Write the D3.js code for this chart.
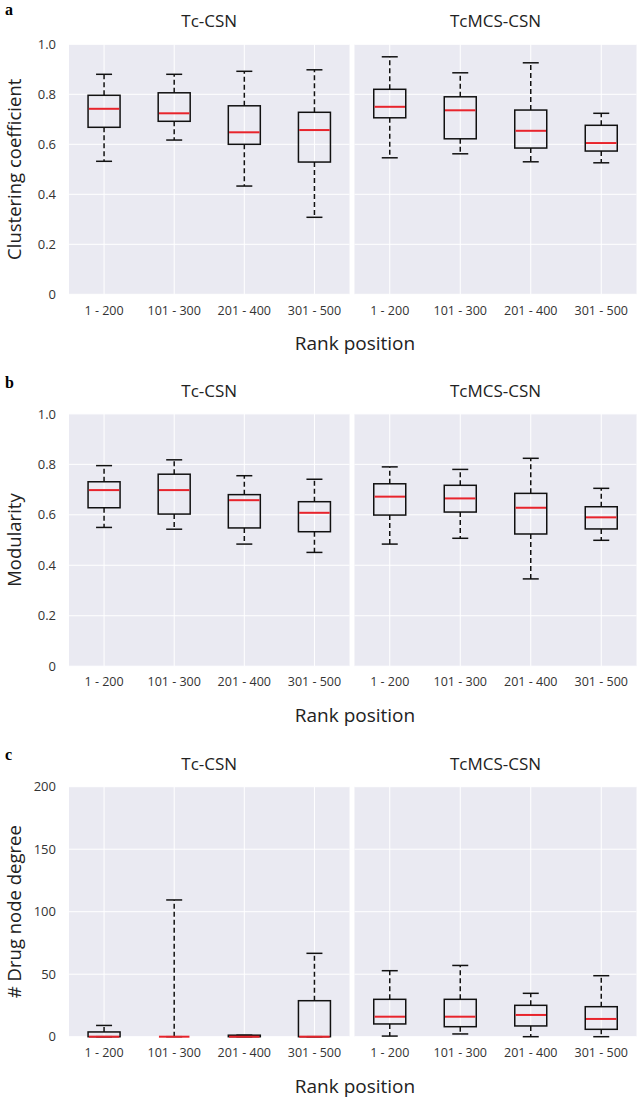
<!DOCTYPE html>
<html>
<head>
<meta charset="utf-8">
<script src="https://cdn.jsdelivr.net/npm/d3@7"></script>
<style>
  html, body { margin: 0; padding: 0; background: #fff; }
  svg { display: block; }
  text { font-family: "Open Sans", "Noto Sans", sans-serif; fill: #222; }
</style>
</head>
<body>
<svg id="chart" width="637" height="1098"></svg>
<script>
// ---------- DATA ----------
const categories = ["1 - 200", "101 - 300", "201 - 400", "301 - 500"];
const networks = ["Tc-CSN", "TcMCS-CSN"];
const panelLetters = ["a", "b", "c"];
const metricLabels = ["Clustering coefficient", "Modularity", "# Drug node degree"];
const xAxisTitle = "Rank position";

// each box: [lower whisker, Q1, median, Q3, upper whisker]
const clusteringTc    = [[0.532,0.668,0.742,0.796,0.880],[0.617,0.692,0.724,0.806,0.880],[0.433,0.600,0.648,0.754,0.892],[0.308,0.529,0.657,0.728,0.898]];
const clusteringTcMCS = [[0.546,0.706,0.750,0.820,0.950],[0.562,0.622,0.736,0.790,0.886],[0.530,0.585,0.654,0.737,0.926],[0.526,0.573,0.605,0.676,0.724]];
const modularityTc    = [[0.550,0.628,0.698,0.731,0.795],[0.543,0.603,0.698,0.761,0.818],[0.484,0.548,0.658,0.680,0.755],[0.451,0.533,0.608,0.652,0.741]];
const modularityTcMCS = [[0.484,0.599,0.672,0.723,0.790],[0.507,0.611,0.665,0.717,0.780],[0.346,0.524,0.628,0.685,0.824],[0.499,0.544,0.590,0.632,0.705]];
const degreeTc        = [[0,0,0,3.8,9],[0,0,0,0,109.4],[0,0,0,1.2,1.2],[0,0,0,28.8,66.7]];
const degreeTcMCS     = [[0.5,10.2,16,29.9,52.8],[2.2,8,16,29.9,57],[0,8.6,17.4,25.1,34.7],[0,5.9,14.2,24,48.8]];

const yDomains = [[0, 1], [0, 1], [0, 200]];
const yTicks = [[0,0.2,0.4,0.6,0.8,1.0],[0,0.2,0.4,0.6,0.8,1.0],[0,50,100,150,200]];
const panelData = [[clusteringTc, clusteringTcMCS],[modularityTc, modularityTcMCS],[degreeTc, degreeTcMCS]];

// ---------- LAYOUT ----------
const plotTops = [44.3, 413.9, 786.7];
const plotHs = [250, 252.3, 250];
const letterY = [15, 388, 760];
const subX = [[69, 349.5], [354.5, 636.5]];
const boxW = 32, capW = 16;
const bg = "#eaeaf2";
const medianColor = "#e8242c";

const svg = d3.select("#chart");

panelData.forEach((pd, pi) => {
  const top = plotTops[pi], h = plotHs[pi];
  const y = d3.scaleLinear().domain(yDomains[pi]).range([top + h, top]);
  const g = svg.append("g");

  // panel letter
  g.append("text").attr("x", 5).attr("y", letterY[pi])
    .style("font-family", "'Liberation Serif', 'DejaVu Serif', serif")
    .style("font-weight", "bold").style("font-size", "16px").style("fill", "#000")
    .text(panelLetters[pi]);

  // y-axis label
  g.append("text")
    .attr("transform", `translate(21,${top + h/2}) rotate(-90)`)
    .attr("text-anchor", "middle")
    .style("font-size", "18.5px")
    .text(metricLabels[pi]);

  // y ticks
  const yAxis = d3.axisLeft(y).tickValues(yTicks[pi]).tickSize(0).tickPadding(0)
    .tickFormat(d => pi === 2 ? String(d) : (d === 0 ? "0" : d.toFixed(1)));
  const ya = g.append("g").attr("transform", `translate(56,0)`).call(yAxis);
  ya.select(".domain").remove();
  ya.selectAll("text").style("font-size", "13px").style("fill", "#333")
    .style("font-family", "'Open Sans', 'Noto Sans', sans-serif");

  pd.forEach((series, si) => {
    const [x0, x1] = subX[si];
    const x = d3.scaleBand().domain(categories).range([x0, x1]);
    const sg = g.append("g");

    sg.append("rect").attr("x", x0).attr("y", top).attr("width", x1 - x0).attr("height", h).attr("fill", bg);

    // grid
    sg.selectAll(".hg").data(yTicks[pi]).enter().append("line")
      .attr("x1", x0).attr("x2", x1).attr("y1", d => y(d)).attr("y2", d => y(d))
      .attr("stroke", "#fff").attr("stroke-width", 1);
    sg.selectAll(".vg").data(categories).enter().append("line")
      .attr("x1", d => x(d) + x.bandwidth()/2).attr("x2", d => x(d) + x.bandwidth()/2)
      .attr("y1", top).attr("y2", top + h)
      .attr("stroke", "#fff").attr("stroke-width", 1);

    // title
    sg.append("text").attr("x", (x0 + x1)/2).attr("y", top - 17)
      .attr("text-anchor", "middle").style("font-size", "17px").text(networks[si]);

    // x tick labels
    const xAxis = d3.axisBottom(x).tickSize(0).tickPadding(0);
    const xa = sg.append("g").attr("transform", `translate(0,${top + h + 9})`).call(xAxis);
    xa.select(".domain").remove();
    xa.selectAll("text").attr("dy", "0.9em").style("font-size", "12.5px").style("fill", "#333")
      .style("font-family", "'Open Sans', 'Noto Sans', sans-serif");

    // boxes
    const bx = sg.selectAll(".box").data(series.map((d, i) => ({cat: categories[i], v: d})))
      .enter().append("g");
    const cx = d => x(d.cat) + x.bandwidth()/2;

    // whiskers
    bx.append("line").attr("x1", cx).attr("x2", cx)
      .attr("y1", d => y(d.v[3])).attr("y2", d => y(d.v[4]))
      .attr("stroke", "#111").attr("stroke-width", 1.5).attr("stroke-dasharray", "5,3");
    bx.append("line").attr("x1", cx).attr("x2", cx)
      .attr("y1", d => y(d.v[1])).attr("y2", d => y(d.v[0]))
      .attr("stroke", "#111").attr("stroke-width", 1.5).attr("stroke-dasharray", "5,3");
    // caps
    bx.append("line").attr("x1", d => cx(d) - capW/2).attr("x2", d => cx(d) + capW/2)
      .attr("y1", d => y(d.v[4])).attr("y2", d => y(d.v[4]))
      .attr("stroke", "#111").attr("stroke-width", 1.5);
    bx.append("line").attr("x1", d => cx(d) - capW/2).attr("x2", d => cx(d) + capW/2)
      .attr("y1", d => y(d.v[0])).attr("y2", d => y(d.v[0]))
      .attr("stroke", "#111").attr("stroke-width", 1.5);
    // box
    bx.append("rect").attr("x", d => cx(d) - boxW/2).attr("width", boxW)
      .attr("y", d => y(d.v[3])).attr("height", d => Math.max(0, y(d.v[1]) - y(d.v[3])))
      .attr("fill", "none").attr("stroke", "#111").attr("stroke-width", 1.5);
    // median
    bx.append("line").attr("x1", d => cx(d) - boxW/2 + 0.75).attr("x2", d => cx(d) + boxW/2 - 0.75)
      .attr("y1", d => y(d.v[2])).attr("y2", d => y(d.v[2]))
      .attr("stroke", medianColor).attr("stroke-width", 2);
  });

  // x-axis title
  g.append("text").attr("x", 355).attr("y", top + h + 56)
    .attr("text-anchor", "middle").style("font-size", "19px").text(xAxisTitle);
});
</script>
</body>
</html>
